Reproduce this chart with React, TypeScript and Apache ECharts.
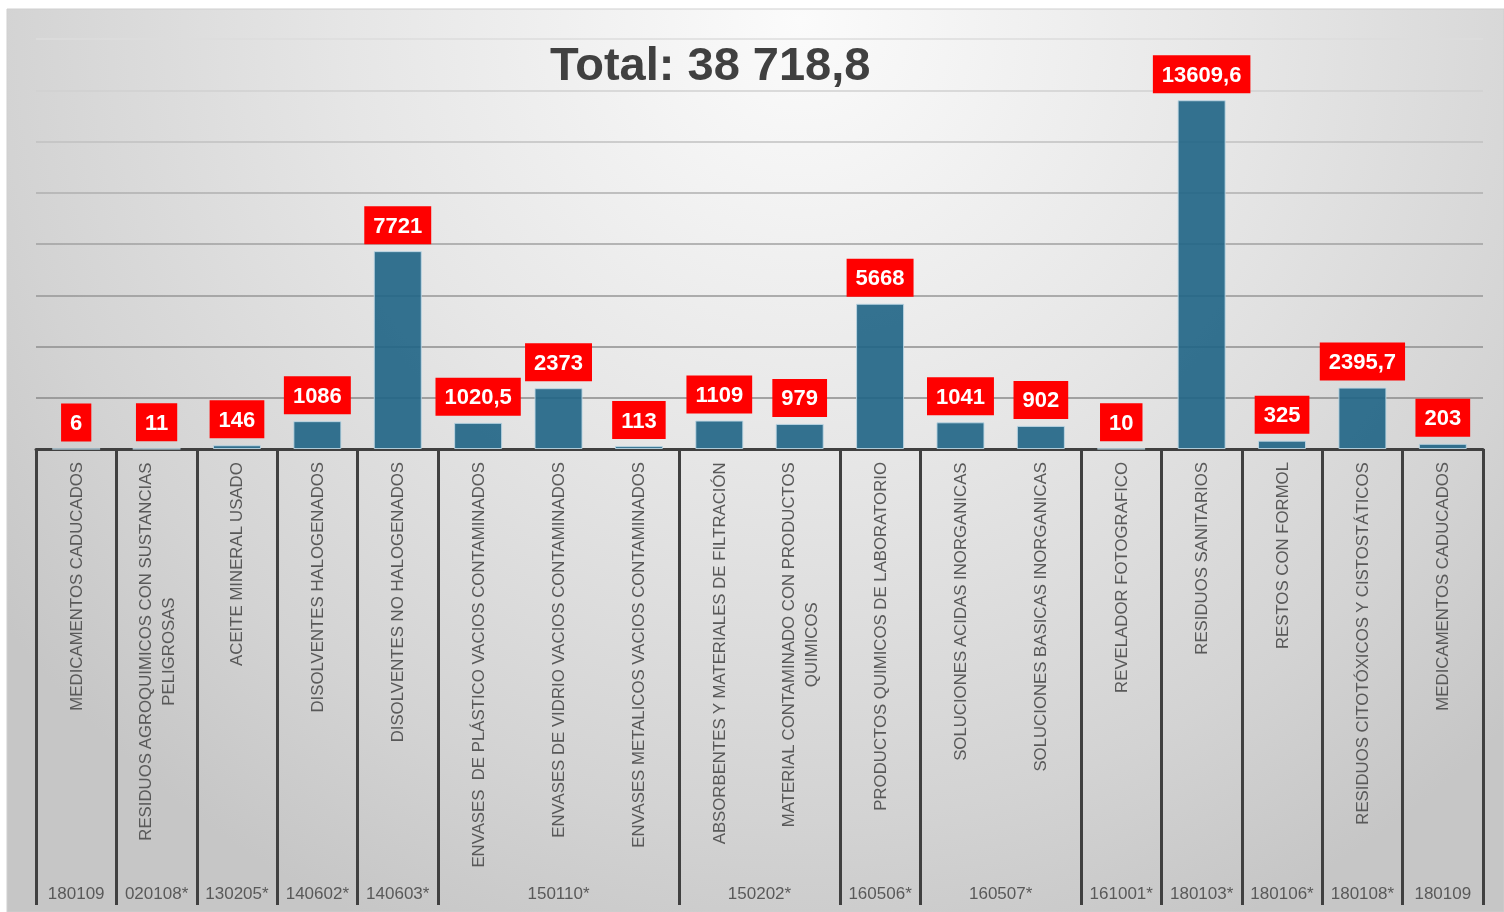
import React, { useEffect, useRef } from 'react';
import * as echarts from 'echarts';

const categories: string[] = [
  'MEDICAMENTOS CADUCADOS',
  'RESIDUOS AGROQUIMICOS CON SUSTANCIAS\nPELIGROSAS',
  'ACEITE MINERAL USADO',
  'DISOLVENTES HALOGENADOS',
  'DISOLVENTES NO HALOGENADOS',
  'ENVASES  DE PLÁSTICO VACIOS CONTAMINADOS',
  'ENVASES DE VIDRIO VACIOS CONTAMINADOS',
  'ENVASES METALICOS VACIOS CONTAMINADOS',
  'ABSORBENTES Y MATERIALES DE FILTRACIÓN',
  'MATERIAL CONTAMINADO CON PRODUCTOS\nQUIMICOS',
  'PRODUCTOS QUIMICOS DE LABORATORIO',
  'SOLUCIONES ACIDAS INORGANICAS',
  'SOLUCIONES BASICAS INORGANICAS',
  'REVELADOR FOTOGRAFICO',
  'RESIDUOS SANITARIOS',
  'RESTOS CON FORMOL',
  'RESIDUOS CITOTÓXICOS Y CISTOSTÁTICOS',
  'MEDICAMENTOS CADUCADOS',
];

const values: number[] = [6, 11, 146, 1086, 7721, 1020.5, 2373, 113, 1109, 979, 5668, 1041, 902, 10, 13609.6, 325, 2395.7, 203];

const groupLabels: string[] = ['180109', '020108*', '130205*', '140602*', '140603*', '150110*', '150202*', '160506*', '160507*', '161001*', '180103*', '180106*', '180108*', '180109'];
const groupSizes: number[] = [1, 1, 1, 1, 1, 3, 2, 1, 2, 1, 1, 1, 1, 1];

const titleText = 'Total: 38 718,8';

const yTicks: number[] = [0, 2000, 4000, 6000, 8000, 10000, 12000, 14000, 16000];
const gridColors: string[] = ['#8a8a8a', '#8a8a8a', '#8e8e8e', '#969696', '#a0a0a0', '#afafaf', '#c0c0c0', '#d0d0d0', '#dcdcdc'];

const FONT = '"Liberation Sans", Arial, sans-serif';

export default function App() {
  const ref = useRef<HTMLDivElement>(null);

  useEffect(() => {
    if (!ref.current) return;
    const chart = echarts.init(ref.current, undefined, { renderer: 'svg' });

    const groupStarts = new Set<number>();
    const centers: Record<number, string> = {};
    let s = 0;
    groupSizes.forEach((n, i) => {
      groupStarts.add(s);
      centers[2 * s + n] = groupLabels[i];
      s += n;
    });
    const total = categories.length;

    chart.setOption({
      animation: false,
      graphic: [
        {
          type: 'rect',
          z: -100,
          silent: true,
          shape: { x: 7, y: 9, width: 1497, height: 903 },
          style: {
            fill: new echarts.graphic.RadialGradient(800, 20, 1000, [
              { offset: 0, color: '#fbfbfb' },
              { offset: 0.45, color: '#e6e6e6' },
              { offset: 0.8, color: '#d3d3d3' },
              { offset: 1, color: '#c6c6c6' },
            ], true),
            stroke: '#cfcfcf',
            lineWidth: 1,
          },
        },
      ],
      title: {
        text: titleText,
        left: 550,
        top: 40,
        padding: 0,
        textStyle: { fontSize: 47, fontWeight: 'bold', color: '#404040', fontFamily: FONT },
      },
      grid: { left: 36, right: 21, top: 39, bottom: 463 },
      xAxis: [
        {
          type: 'category',
          data: categories,
          boundaryGap: true,
          axisLine: { show: true, lineStyle: { color: '#404040', width: 3 } },
          axisTick: {
            show: true,
            length: 456,
            interval: (index: number) => groupStarts.has(index),
            lineStyle: { color: '#404040', width: 3 },
          },
          axisLabel: {
            interval: 0,
            rotate: 90,
            margin: 13,
            formatter: (v: string) => v.split('\n').map((t) => `{c|${t}}`).join('\n'),
            rich: {
              c: { align: 'center', fontSize: 16.8, color: '#595959', fontFamily: FONT, lineHeight: 23 },
            },
          },
          splitLine: { show: false },
        },
        {
          type: 'value',
          position: 'bottom',
          offset: 436,
          min: 0,
          max: total * 2,
          interval: 1,
          axisLine: { show: false },
          axisTick: { show: false },
          splitLine: { show: false },
          axisLabel: {
            margin: 0,
            showMinLabel: true,
            showMaxLabel: true,
            fontSize: 17,
            color: '#595959',
            fontFamily: FONT,
            formatter: (v: number) => centers[Math.round(v)] || '',
          },
        },
      ],
      yAxis: {
        type: 'value',
        min: yTicks[0],
        max: yTicks[yTicks.length - 1],
        interval: yTicks[1] - yTicks[0],
        axisLine: { show: false },
        axisTick: { show: false },
        axisLabel: { show: false },
        splitLine: { show: true, lineStyle: { color: gridColors, width: 1.5 } },
      },
      series: [
        {
          type: 'bar',
          xAxisIndex: 0,
          data: values,
          barWidth: 48,
          itemStyle: {
            color: 'rgba(31,100,133,0.9)',
            borderColor: 'rgba(190,215,228,0.9)',
            borderWidth: 1,
          },
          label: {
            show: true,
            position: 'top',
            distance: 7,
            formatter: (p: any) => String(p.value).replace('.', ','),
            backgroundColor: '#ff0000',
            color: '#ffffff',
            fontWeight: 'bold',
            fontSize: 22,
            lineHeight: 22,
            fontFamily: FONT,
            padding: [8, 9, 8, 9],
          },
        },
      ],
    });

    return () => chart.dispose();
  }, []);

  return (
    <div
      ref={ref}
      style={{ position: 'fixed', left: 0, top: 0, width: 1504, height: 912 }}
    />
  );
}
